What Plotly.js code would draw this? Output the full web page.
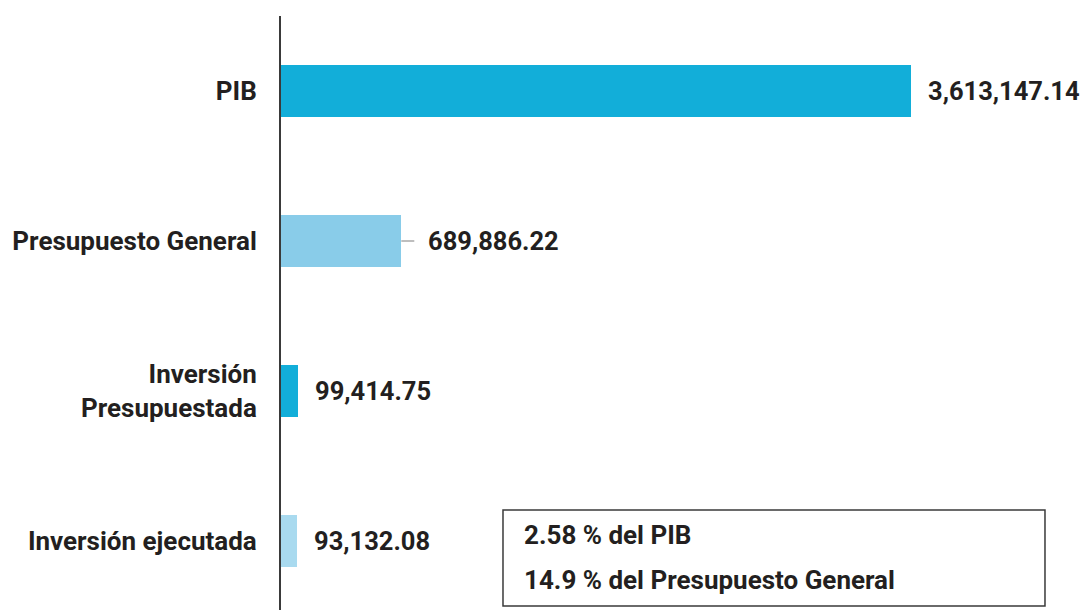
<!DOCTYPE html>
<html>
<head>
<meta charset="utf-8">
<script src="https://cdn.plot.ly/plotly-3.0.1.min.js"></script>
<style>
html,body{margin:0;padding:0;background:#fff;overflow:hidden;}
#chart{width:1083px;height:610px;}
</style>
</head>
<body>
<div id="chart"></div>
<script>
// Data
const categories = ["PIB", "Presupuesto General", "Inversión<br>Presupuestada", "Inversión ejecutada"];
const values = [3613147.14, 689886.22, 99414.75, 93132.08];
const valueLabels = ["3,613,147.14", "689,886.22", "99,414.75", "93,132.08"];
const barColors = ["#12AED9", "#89CCE9", "#12AED9", "#A9DAEF"];
const noteLines = ["2.58 % del PIB", "14.9 % del Presupuesto General"];

const FONT = "Roboto, 'DejaVu Sans', sans-serif";
const TXT = "#231F20";

const trace = {
  type: "bar",
  orientation: "h",
  y: categories,
  x: values,
  width: 0.35,
  marker: {color: barColors},
  hoverinfo: "none"
};

const annotations = values.map((v, i) => ({
  x: v, y: categories[i], xref: "x", yref: "y",
  text: "<b>" + valueLabels[i] + "</b>",
  showarrow: false, xanchor: "left", yanchor: "middle",
  xshift: i === 1 ? 25 : 15,
  font: {family: FONT, size: 25.5, color: TXT}
}));

annotations.push({
  x: 0.301, y: 0.1263, xref: "paper", yref: "paper",
  text: "<b>" + noteLines[0] + "</b>", showarrow: false,
  xanchor: "left", yanchor: "middle",
  font: {family: FONT, size: 26, color: TXT}
});
annotations.push({
  x: 0.301, y: 0.0505, xref: "paper", yref: "paper",
  text: "<b>" + noteLines[1] + "</b>", showarrow: false,
  xanchor: "left", yanchor: "middle",
  font: {family: FONT, size: 26, color: TXT}
});

const shapes = [
  {
    type: "rect", xref: "paper", yref: "paper",
    x0: 0.2768, x1: 0.9526, y0: 0.0067, y1: 0.1684,
    line: {color: "#3a3a3a", width: 1.5}, fillcolor: "rgba(0,0,0,0)"
  },
  {
    type: "line", xref: "x", yref: "y",
    xsizemode: "pixel", xanchor: values[1],
    x0: 0, x1: 13, y0: categories[1], y1: categories[1],
    line: {color: "#A8A8A8", width: 1.5}
  }
];

const layout = {
  width: 1083, height: 610,
  margin: {l: 281, r: 0, t: 16, b: 0, pad: 0},
  paper_bgcolor: "#fff", plot_bgcolor: "#fff",
  showlegend: false,
  bargap: 0,
  xaxis: {
    range: [0, 4599720], showgrid: false, zeroline: false,
    showline: false, showticklabels: false, ticks: ""
  },
  yaxis: {
    type: "category",
    categoryorder: "array", categoryarray: categories,
    range: [3.46, -0.5],
    showgrid: false, zeroline: false,
    showline: true, linecolor: "#3a3a3a", linewidth: 2,
    ticks: "", ticklabelstandoff: 17,
    tickfont: {family: FONT, size: 26, color: TXT, weight: "bold"}
  },
  annotations: annotations,
  shapes: shapes
};

Plotly.newPlot("chart", [trace], layout, {displayModeBar: false, staticPlot: true});
</script>
</body>
</html>
